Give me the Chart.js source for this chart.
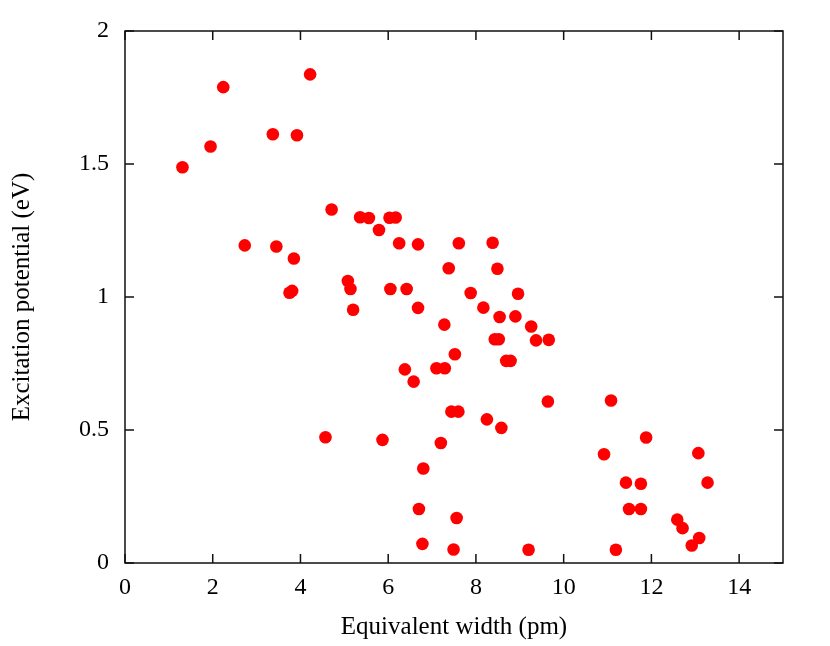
<!DOCTYPE html>
<html>
<head>
<meta charset="utf-8">
<script src="https://cdn.jsdelivr.net/npm/chart.js@4"></script>
<style>
  html, body { margin: 0; padding: 0; background: #fff; }
</style>
</head>
<body>
<canvas id="myChart" width="830" height="646"></canvas>
<script>
// equivalent width (pm) and excitation potential (eV)
const widthPm = [
  1.31, 1.95, 2.24, 2.73, 3.37, 3.45, 3.75, 3.81, 3.85, 3.92,
  4.22, 4.57, 4.71, 5.08, 5.14, 5.20, 5.36, 5.56, 5.79, 5.87,
  6.03, 6.05, 6.17, 6.25, 6.38, 6.42, 6.58, 6.68, 6.68, 6.70,
  6.78, 6.80, 7.10, 7.20, 7.28, 7.29, 7.38, 7.44, 7.49, 7.52,
  7.56, 7.60, 7.61, 7.88, 8.17, 8.25, 8.38, 8.43, 8.49, 8.52,
  8.54, 8.58, 8.69, 8.79, 8.90, 8.96, 9.20, 9.26, 9.37, 9.64,
  9.66, 10.92, 11.08, 11.19, 11.42, 11.49, 11.76, 11.76, 11.88, 12.59,
  12.71, 12.92, 13.07, 13.09, 13.28
];
const excitationEv = [
  1.488, 1.566, 1.789, 1.194, 1.612, 1.190, 1.016, 1.023, 1.145, 1.608,
  1.837, 0.473, 1.329, 1.060, 1.030, 0.952, 1.300, 1.297, 1.252, 0.463,
  1.298, 1.030, 1.299, 1.202, 0.728, 1.030, 0.682, 1.198, 0.959, 0.203,
  0.072, 0.355, 0.732, 0.451, 0.896, 0.732, 1.108, 0.569, 0.051, 0.785,
  0.169, 0.569, 1.202, 1.015, 0.960, 0.540, 1.204, 0.841, 1.106, 0.841,
  0.925, 0.508, 0.760, 0.760, 0.927, 1.012, 0.050, 0.889, 0.837, 0.607,
  0.839, 0.409, 0.611, 0.050, 0.302, 0.203, 0.298, 0.203, 0.472, 0.163,
  0.131, 0.066, 0.413, 0.094, 0.302
];
const xTicks = [0, 2, 4, 6, 8, 10, 12, 14];
const xTickLabels = ['0', '2', '4', '6', '8', '10', '12', '14'];
const yTicks = [0, 0.5, 1, 1.5, 2];
const yTickLabels = ['0', '0.5', '1', '1.5', '2'];

const serif = "'Liberation Serif', 'DejaVu Serif', serif";

// gnuplot style box with ticks pointing inwards on all four sides
const frameTicks = {
  id: 'frameTicks',
  afterDraw(chart) {
    const {ctx, chartArea: a, scales: {x, y}} = chart;
    const len = 9;
    ctx.save();
    ctx.strokeStyle = '#111';
    ctx.lineWidth = 1.5;
    ctx.strokeRect(a.left, a.top, a.right - a.left, a.bottom - a.top);
    ctx.beginPath();
    xTicks.forEach(v => {
      const px = x.getPixelForValue(v);
      ctx.moveTo(px, a.bottom); ctx.lineTo(px, a.bottom - len);
      ctx.moveTo(px, a.top); ctx.lineTo(px, a.top + len);
    });
    yTicks.forEach(v => {
      const py = y.getPixelForValue(v);
      ctx.moveTo(a.left, py); ctx.lineTo(a.left + len, py);
      ctx.moveTo(a.right, py); ctx.lineTo(a.right - len, py);
    });
    ctx.stroke();
    ctx.restore();
  }
};

const ctx = document.getElementById('myChart');

const cfg = {
  type: 'scatter',
  data: {
    datasets: [{
      data: widthPm.map((w, i) => ({x: w, y: excitationEv[i]})),
      backgroundColor: '#ff0000',
      borderWidth: 0,
      pointRadius: 6.3,
      pointHoverRadius: 6.3
    }]
  },
  options: {
    responsive: false,
    animation: false,
    devicePixelRatio: 1,
    layout: { padding: { left: 0, top: 31, right: 47, bottom: 0 } },
    plugins: { legend: { display: false }, tooltip: { enabled: false } },
    scales: {
      x: {
        type: 'linear',
        min: 0,
        max: 15,
        grid: { display: false, drawTicks: false },
        border: { display: false },
        afterBuildTicks: s => { s.ticks = xTicks.map(v => ({value: v})); },
        afterFit: s => { s.height = 83; },
        ticks: {
          color: '#000',
          padding: 10,
          font: { family: serif, size: 24 },
          callback: (v, i) => xTickLabels[i]
        },
        title: {
          display: true,
          text: 'Equivalent width (pm)',
          color: '#000',
          padding: { top: 0, bottom: 4 },
          font: { family: serif, size: 25 }
        }
      },
      y: {
        type: 'linear',
        min: 0,
        max: 2,
        grid: { display: false, drawTicks: false },
        border: { display: false },
        afterBuildTicks: s => { s.ticks = yTicks.map(v => ({value: v})); },
        afterFit: s => { s.width = 125; },
        ticks: {
          color: '#000',
          padding: 16,
          font: { family: serif, size: 24 },
          callback: (v, i) => yTickLabels[i]
        },
        title: {
          display: true,
          text: 'Excitation potential (eV)',
          color: '#000',
          padding: { top: 7, bottom: 0 },
          font: { family: serif, size: 25 }
        }
      }
    }
  },
  plugins: [frameTicks]
};

let cht = new Chart(ctx, cfg);
</script>
</body>
</html>
